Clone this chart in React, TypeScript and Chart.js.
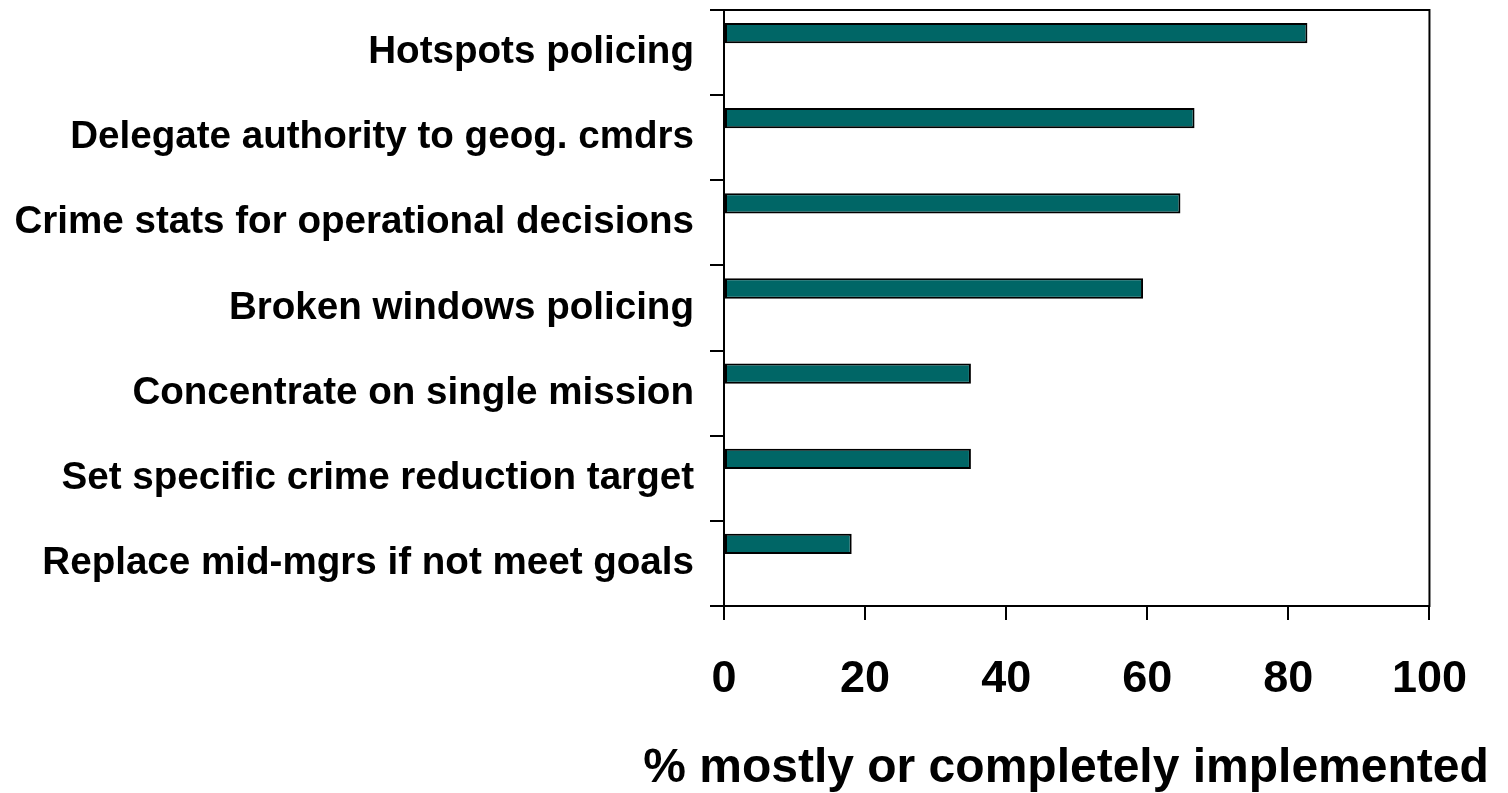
import React, { useEffect, useRef } from "react";
import { Chart, registerables } from "chart.js";

Chart.register(...registerables);

const categories = [
  "Hotspots policing",
  "Delegate authority to geog. cmdrs",
  "Crime stats for operational decisions",
  "Broken windows policing",
  "Concentrate on single mission",
  "Set specific crime reduction target",
  "Replace mid-mgrs if not meet goals",
];
const implementedPct = [82.7, 66.7, 64.7, 59.4, 35, 35, 18.1];
const emptySeries = [null, null, null, null, null, null, null];
const xTicks = [0, 20, 40, 60, 80, 100];
const xTitle = "% mostly or completely implemented";

const FONT = "'Liberation Sans', Arial, Helvetica, sans-serif";

const frame = {
  id: "frame",
  afterDraw(chart: any) {
    const { ctx, chartArea } = chart;
    ctx.save();
    ctx.strokeStyle = "#000";
    ctx.lineWidth = 2;
    ctx.strokeRect(chartArea.left, chartArea.top, chartArea.right - chartArea.left, chartArea.bottom - chartArea.top);
    ctx.restore();
  },
};

const axisTitle = {
  id: "axisTitle",
  afterDraw(chart: any) {
    const { ctx } = chart;
    ctx.save();
    ctx.fillStyle = "#000";
    ctx.font = `bold 48px ${FONT}`;
    ctx.textAlign = "center";
    ctx.textBaseline = "alphabetic";
    ctx.fillText(xTitle, 1058, 774);
    ctx.restore();
  },
};

export default function App() {
  const ref = useRef<HTMLCanvasElement>(null);
  useEffect(() => {
    if (!ref.current) return;
    const chart = new Chart(ref.current, {
      type: "bar",
      data: {
        labels: categories,
        datasets: [
          {
            data: implementedPct,
            backgroundColor: "#006666",
            borderColor: "#000",
            borderWidth: 2,
            borderSkipped: false,
            categoryPercentage: 0.916,
            barPercentage: 0.52,
          },
          {
            data: emptySeries as any,
            backgroundColor: "#006666",
            categoryPercentage: 0.916,
            barPercentage: 0.52,
          },
        ],
      },
      options: {
        indexAxis: "y",
        responsive: false,
        animation: false,
        layout: { padding: { top: 2, right: 63, left: 0, bottom: 8 } },
        plugins: { legend: { display: false }, tooltip: { enabled: false } },
        scales: {
          x: {
            min: 0,
            max: 100,
            afterBuildTicks: (scale: any) => {
              scale.ticks = xTicks.map((v) => ({ value: v }));
            },
            afterFit: (scale: any) => {
              scale.height = 179;
            },
            ticks: {
              color: "#000",
              padding: 33,
              font: { family: FONT, size: 45, weight: "bold" },
              maxRotation: 0,
            },
            grid: {
              display: true,
              drawOnChartArea: false,
              drawTicks: true,
              tickLength: 14,
              color: "#000",
              lineWidth: 2,
            },
            border: { display: true, color: "#000", width: 2 },
          },
          y: {
            afterFit: (scale: any) => {
              scale.width = 716;
              scale.paddingTop = 0;
              scale.paddingBottom = 0;
            },
            ticks: {
              color: "#000",
              padding: 16,
              font: { family: FONT, size: 38.6, weight: "bold" },
            },
            grid: {
              display: true,
              drawOnChartArea: false,
              drawTicks: true,
              tickLength: 14,
              color: "#000",
              lineWidth: 2,
              offset: true,
            },
            border: { display: true, color: "#000", width: 2 },
          },
        },
      },
      plugins: [frame, axisTitle],
    });
    return () => chart.destroy();
  }, []);
  return (
    <canvas
      ref={ref}
      width={1492}
      height={785}
      style={{ display: "block", position: "absolute", left: 8, top: 8 }}
    />
  );
}
